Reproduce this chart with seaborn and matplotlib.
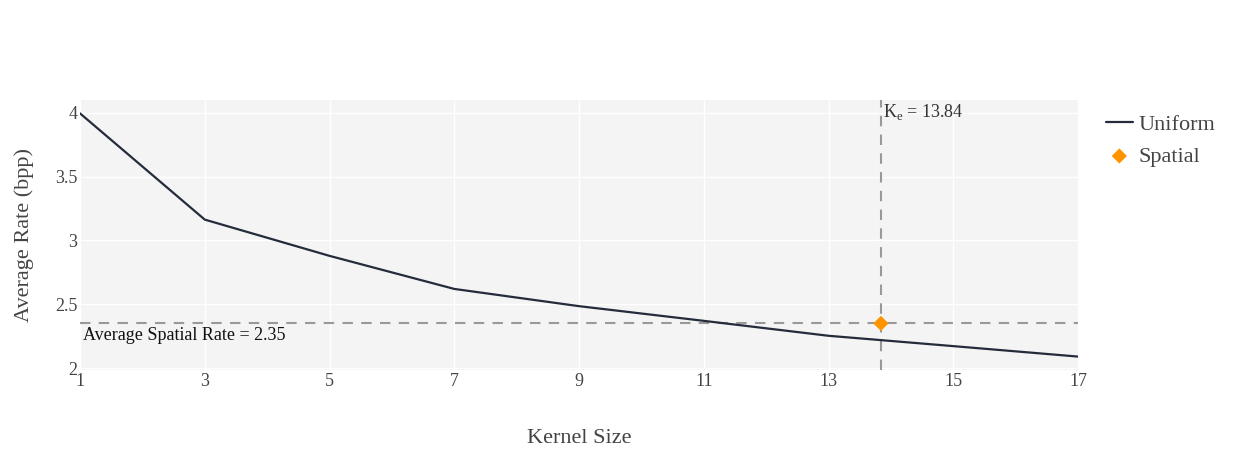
import matplotlib
matplotlib.use("Agg")
import matplotlib.pyplot as plt
import seaborn as sns
import pandas as pd

# values
kernel_sizes = [1, 3, 5, 7, 9, 11, 13, 15, 17]
uniform_rate = [3.995, 3.163, 2.879, 2.62, 2.485, 2.37, 2.253, 2.172, 2.09]
spatial_k = [13.84]
spatial_rate = [2.35]

sns.set_theme(style="darkgrid")
plt.rcParams["font.family"] = ["Liberation Serif", "DejaVu Serif"]

df_uni = pd.DataFrame({"kernel": kernel_sizes, "rate": uniform_rate})
df_sp = pd.DataFrame({"kernel": spatial_k, "rate": spatial_rate})

fig = plt.figure(figsize=(12.33, 4.5), dpi=100)
ax = fig.add_axes([0.0649, 0.1778, 0.8094, 0.6])
ax.set_facecolor("#f4f4f4")

# reference lines first so data sits on top
ax.axhline(spatial_rate[0], color="#999999", linestyle=(0, (5, 4)), linewidth=1.5, zorder=2)
ax.axvline(spatial_k[0], color="#999999", linestyle=(0, (5, 4)), linewidth=1.5, zorder=2)

sns.lineplot(data=df_uni, x="kernel", y="rate", color="#242c3c", linewidth=1.6,
             ax=ax, label="Uniform", zorder=3)
sns.scatterplot(data=df_sp, x="kernel", y="rate", color="#ff9400", marker="D", s=60,
                edgecolor="none", ax=ax, label="Spatial", zorder=4)

ax.set_xlim(1, 17)
ax.set_ylim(1.985, 4.1)
ax.set_xticks(range(1, 18, 2))
ax.set_yticks([2, 2.5, 3, 3.5, 4])
ax.set_yticklabels(["2", "2.5", "3", "3.5", "4"])
ax.grid(color="white", linewidth=1)
for s in ax.spines.values():
    s.set_visible(False)
ax.tick_params(axis="both", length=0, labelsize=13, colors="#444444", pad=2)

ax.set_xlabel("Kernel Size", fontsize=16, color="#444444", labelpad=28)
ax.set_ylabel("Average Rate (bpp)", fontsize=16, color="#444444", labelpad=15)

ax.text(spatial_k[0] + 0.04, 4.085, r"K$_\mathregular{e}$ = 13.84", fontsize=13,
        color="#333333", ha="left", va="top")
ax.text(1.05, spatial_rate[0] - 0.025, "Average Spatial Rate = 2.35", fontsize=13,
        color="#111111", ha="left", va="top")

leg = ax.legend(loc="upper left", bbox_to_anchor=(1.008, 1.02), frameon=False,
                fontsize=16, handlelength=1.2, handletextpad=0.25, labelspacing=0.5)
for t in leg.get_texts():
    t.set_color("#444444")

fig.savefig("out.png", dpi=100)
